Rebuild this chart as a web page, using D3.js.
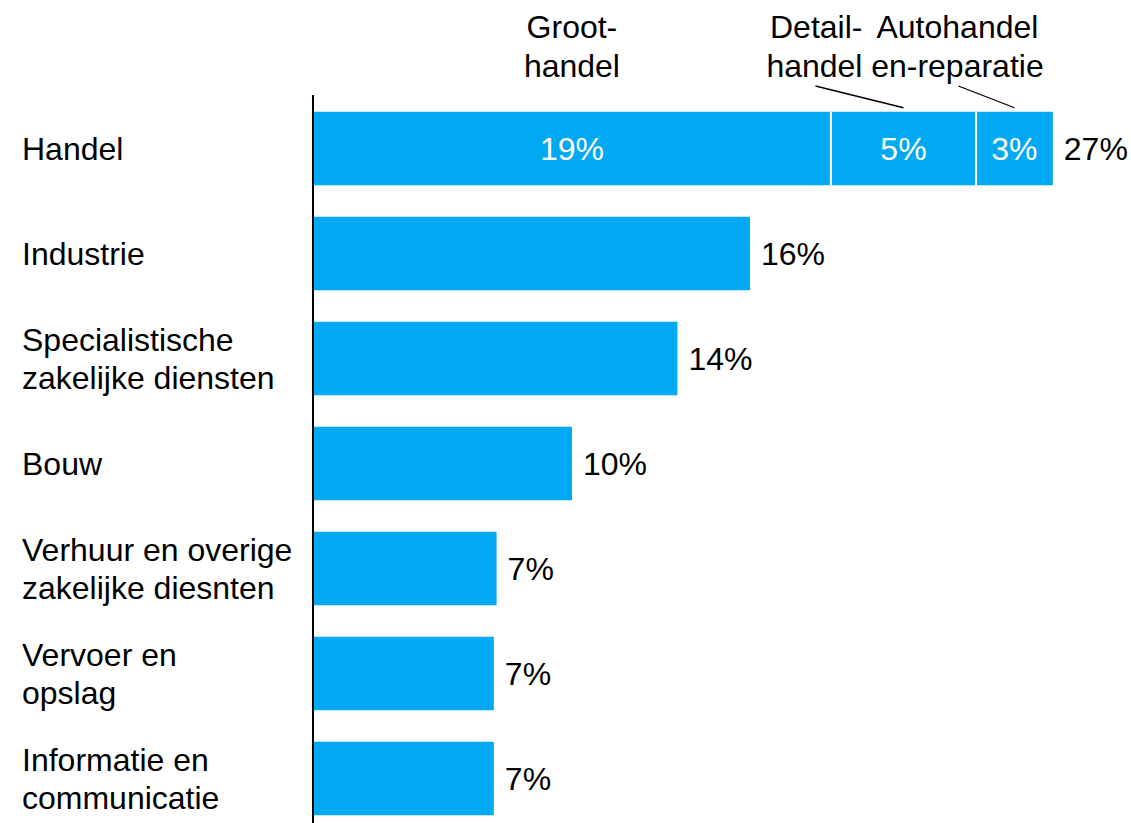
<!DOCTYPE html>
<html>
<head>
<meta charset="utf-8">
<script src="https://cdn.jsdelivr.net/npm/d3@7"></script>
<style>
	body { margin: 0; background: #ffffff; }
	text { font-family: "Liberation Sans", Arial, sans-serif; font-size: 32px; }
</style>
</head>
<body>
<script>
var width = 1131,
	height = 823;

// categories (each label line is an entry)
var categories = [
	["Handel"],
	["Industrie"],
	["Specialistische", "zakelijke diensten"],
	["Bouw"],
	["Verhuur en overige", "zakelijke diesnten"],
	["Vervoer en", "opslag"],
	["Informatie en", "communicatie"]
];

// bar lengths in %
var values = [null, 15.95, 13.3, 9.45, 6.7, 6.6, 6.6];
var valueLabels = ["27%", "16%", "14%", "10%", "7%", "7%", "7%"];

// the Handel bar is split in three parts
var handelParts = [
	["Groot-", "handel"],
	["Detail-", "handel"],
	["Autohandel", "en-reparatie"]
];
var handelValues = [18.9, 5.3, 2.8];
var handelLabels = ["19%", "5%", "3%"];

var barColor = "#00a9f2";

var svg = d3.select("body").append("svg")
	.attr("width", width)
	.attr("height", height);

var xScale = d3.scaleLinear()
	.domain([0, 30])
	.range([313, 313 + 30 * 27.4]);

var yScale = d3.scaleBand()
	.domain(d3.range(categories.length))
	.range([96, 831])
	.paddingInner(0.3)
	.paddingOuter(0.15);

var bw = yScale.bandwidth();

// stacked Handel bar
var cum = 0;
var segs = handelValues.map(function(v, i) {
	var s = { start: cum, end: cum + v, label: handelLabels[i], name: handelParts[i] };
	cum += v;
	return s;
});
values[0] = cum;

svg.selectAll(".seg")
	.data(segs)
	.enter().append("rect")
	.attr("class", "seg")
	.attr("x", function(d) { return xScale(d.start); })
	.attr("y", yScale(0))
	.attr("width", function(d) { return xScale(d.end) - xScale(d.start); })
	.attr("height", bw)
	.attr("fill", barColor);

// white separators between the parts
svg.selectAll(".sep")
	.data(segs.slice(1))
	.enter().append("line")
	.attr("class", "sep")
	.attr("x1", function(d) { return xScale(d.start); })
	.attr("x2", function(d) { return xScale(d.start); })
	.attr("y1", yScale(0))
	.attr("y2", yScale(0) + bw)
	.attr("stroke", "#ffffff")
	.attr("stroke-width", 2);

svg.selectAll(".segLabel")
	.data(segs)
	.enter().append("text")
	.attr("class", "segLabel")
	.attr("x", function(d) { return xScale((d.start + d.end) / 2); })
	.attr("y", yScale(0) + bw / 2 + 11)
	.attr("text-anchor", "middle")
	.attr("fill", "#ffffff")
	.text(function(d) { return d.label; });

// other bars
svg.selectAll(".bar")
	.data(values.slice(1))
	.enter().append("rect")
	.attr("class", "bar")
	.attr("x", xScale(0))
	.attr("y", function(d, i) { return yScale(i + 1); })
	.attr("width", function(d) { return xScale(d) - xScale(0); })
	.attr("height", bw)
	.attr("fill", barColor);

// value labels
svg.selectAll(".valLabel")
	.data(values)
	.enter().append("text")
	.attr("class", "valLabel")
	.attr("x", function(d) { return xScale(d) + 11; })
	.attr("y", function(d, i) { return yScale(i) + bw / 2 + 11; })
	.attr("fill", "#000000")
	.text(function(d, i) { return valueLabels[i]; });

// category labels
var catText = svg.selectAll(".catLabel")
	.data(categories)
	.enter().append("text")
	.attr("class", "catLabel")
	.attr("fill", "#000000")
	.attr("y", function(d, i) {
		var c = yScale(i) + bw / 2;
		return d.length > 1 ? c - 8 : c + 11;
	});

catText.selectAll("tspan")
	.data(function(d) { return d; })
	.enter().append("tspan")
	.attr("x", 22)
	.attr("dy", function(d, i) { return i ? 38 : 0; })
	.text(function(d) { return d; });

// axis line
var yAxis = d3.axisLeft(yScale)
	.tickSize(0)
	.tickFormat("");

var axisG = svg.append("g")
	.attr("transform", "translate(" + xScale(0) + ",0)")
	.call(yAxis);
axisG.select(".domain")
	.attr("stroke", "#000000")
	.attr("stroke-width", 2)
	.attr("d", "M0,95V823");

// annotations above the Handel bar
var annot = [
	{ anchor: "middle", dx: 0, lead: null },
	{ anchor: "end", dx: -41, lead: [-88, 0] },
	{ anchor: "middle", dx: -57, lead: [-56, 0] }
];

segs.forEach(function(d, i) {
	var cx = xScale((d.start + d.end) / 2);
	var a = annot[i];
	var t = svg.append("text")
		.attr("text-anchor", a.anchor)
		.attr("fill", "#000000")
		.attr("y", 38);
	t.selectAll("tspan")
		.data(d.name)
		.enter().append("tspan")
		.attr("x", cx + a.dx)
		.attr("dy", function(e, j) { return j ? 39 : 0; })
		.text(function(e) { return e; });
	if (a.lead) {
		svg.append("line")
			.attr("x1", cx + a.lead[0])
			.attr("y1", 86)
			.attr("x2", cx + a.lead[1])
			.attr("y2", yScale(0) - 4)
			.attr("stroke", "#000000")
			.attr("stroke-width", 1.3);
	}
});
</script>
</body>
</html>
